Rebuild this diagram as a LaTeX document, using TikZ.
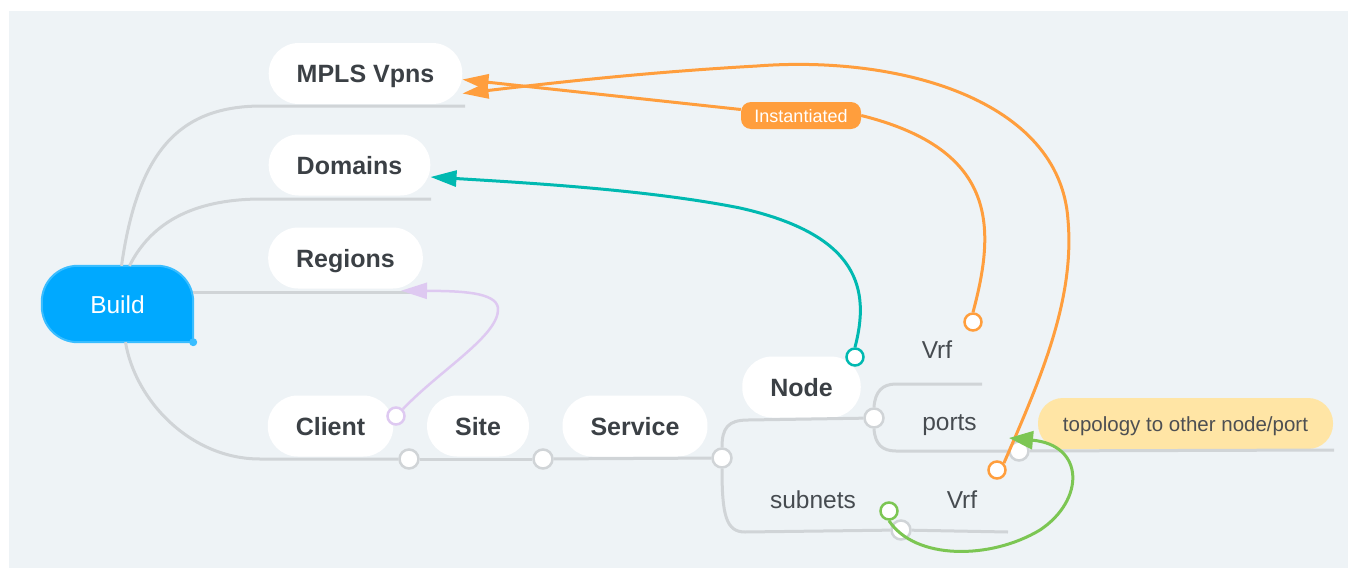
\documentclass[tikz,border=0pt]{standalone}
\usepackage{fontspec}
\setmainfont{Liberation Sans}
\usepackage{xcolor}
\usetikzlibrary{positioning,arrows.meta,backgrounds,calc}
\definecolor{panelbg}{HTML}{EEF3F6}
\definecolor{linegray}{HTML}{D0D4D7}
\definecolor{boxtext}{HTML}{3B4045}
\definecolor{leaftext}{HTML}{464B50}
\definecolor{topotext}{HTML}{4D4F52}
\definecolor{buildblue}{HTML}{00A9FF}
\definecolor{buildedge}{HTML}{3ABDFF}
\definecolor{relorange}{HTML}{FF9E3D}
\definecolor{relteal}{HTML}{00B9B1}
\definecolor{relgreen}{HTML}{7CC653}
\definecolor{rellilac}{HTML}{DEC9F1}
\definecolor{topoyellow}{HTML}{FFE5A5}

\begin{document}
\begin{tikzpicture}[x=1pt,y=-1pt,
    topic/.style={fill=white,rounded corners=30pt,inner xsep=28pt,minimum height=61pt,
                  text height=18pt,text depth=0pt,text=boxtext,
                  font=\fontsize{25}{30}\selectfont\bfseries},
    leaf/.style={inner sep=0pt,text height=18pt,text depth=0pt,text=leaftext,
                 font=\fontsize{24.5}{29}\selectfont},
    knob/.style={circle,draw=linegray,fill=white,line width=2.5pt,minimum size=19pt,inner sep=0pt},
    rdot/.style={circle,fill=white,line width=2.5pt,minimum size=17pt,inner sep=0pt},
    branch/.style={draw=linegray,line width=3pt},
    rel/.style={line width=3pt},
    >={Triangle[length=26pt,width=16pt]}]
    \useasboundingbox (0,0) rectangle (1358,570);
    \begin{scope}[on background layer]
        \fill[white] (0,0) rectangle (1358,570);
        \fill[panelbg] (9,11) rectangle (1348,568);
    \end{scope}

    \node[minimum width=151pt,minimum height=76pt,inner sep=0pt,text height=18pt,text depth=0pt,
          text=white,font=\fontsize{24.5}{29}\selectfont] (build) at (117.5,304) {Build};
    \begin{scope}[on background layer]
        \draw[buildedge,fill=buildblue,line width=2pt,rounded corners=36pt]
            (build.east) -- (build.north east) -- (build.north west) -- (build.south west)
            -- (build.south) [sharp corners] -- (build.south east) -- cycle;
    \end{scope}
    \fill[buildedge] (build.south east) circle (4pt);

    \node[topic] (mpls) at (365.5,73.5) {MPLS Vpns};
    \node[topic] (domains) at (349.5,165) {Domains};
    \node[topic] (regions) at (345.5,258) {Regions};
    \node[topic] (client) at (330.5,426) {Client};
    \node[topic] (site) at (478,426) {Site};
    \node[topic] (service) at (635,426) {Service};
    \node[topic] (nd) at (801.5,387) {Node};

    \node[leaf] (vrfa) at (937,349) {Vrf};
    \node[leaf] (ports) at (949.5,421) {ports};
    \node[leaf] (subnets) at (813,499) {subnets};
    \node[leaf] (vrfb) at (962,499) {Vrf};

    \node[fill=topoyellow,rounded corners=25pt,minimum width=295pt,minimum height=51pt,inner sep=0pt,
          text height=15pt,text depth=0pt,text=topotext,font=\fontsize{20.5}{24}\selectfont]
          (topology) at (1185.5,423.5) {topology to other node/port};
    \node[fill=relorange,rounded corners=10pt,minimum width=120pt,minimum height=27pt,inner sep=0pt,
          text height=13pt,text depth=0pt,text=white,font=\fontsize{18}{21}\selectfont]
          (inst) at (801,115.5) {Instantiated};

    \node[rdot,draw=relteal] (tealdot) at (855,357) {};
    \node[rdot,draw=relorange] (vrfadot) at (973,322) {};
    \node[rdot,draw=relorange] (vrfbdot) at (997,470) {};
    \node[rdot,draw=relgreen] (subdot) at (889,511) {};
    \node[rdot,draw=rellilac] (clientdot) at (396,416) {};

    \node[knob] (clientknob) at (409,459) {};
    \node[knob] (siteknob) at (543,459) {};
    \node[knob] (serviceknob) at (722,458) {};
    \node[knob] (nodeknob) at (874,418) {};
    \node[knob] (portsknob) at (1019,451) {};
    \node[knob] (subnetsknob) at (901,530) {};

    \coordinate (mplsline) at (465,106);
    \coordinate (domainsline) at (431,199);
    \coordinate (regionsline) at (423,292);
    \coordinate (vrfaline) at (982,384);
    \coordinate (vrfbline) at (1008,532);
    \coordinate (topoline) at (1334,450);

    \draw[branch] ([xshift=4pt]build.north) .. controls (138,150) and (180,106) .. (262,106) -- (mplsline);
    \draw[branch] ([xshift=12pt]build.north) .. controls (150,225) and (190,199) .. (262,199) -- (domainsline);
    \draw[branch] ([yshift=12pt]build.east) -- (regionsline);
    \draw[branch] ([xshift=8pt]build.south) .. controls (135,400) and (190,459) .. (260,459) -- (clientknob);
    \draw[branch] (clientknob) -- (siteknob);
    \draw[branch] (siteknob) -- (serviceknob);
    \draw[branch] (serviceknob.north) .. controls (722,428) and (728,420) .. (748,420) -- (nodeknob);
    \draw[branch] (serviceknob.south) .. controls (722,515) and (726,532) .. (745,532) -- (subnetsknob);
    \draw[branch] (subnetsknob) -- (vrfbline);
    \draw[branch] (nodeknob.north) .. controls (875,392) and (882,384) .. (896,384) -- (vrfaline);
    \draw[branch] (nodeknob.south) .. controls (875,444) and (882,451) .. (896,451) -- (portsknob);
    \draw[branch] (portsknob) -- (topoline);

    \draw[rel,relteal,->] (tealdot.north) .. controls (870,290) and (860,235) .. (740,208)
        .. controls (650,190) and (530,183) .. ([yshift=-12pt]domains.east);
    \draw[rel,rellilac,line width=2.5pt,->] (clientdot.north east) .. controls (440,370) and (500,335) .. (498,308)
        .. controls (496,292) and (460,291) .. ([xshift=-22pt,yshift=-2pt]regions.south east);
    \draw[rel,relorange] (vrfadot.north) .. controls (995,230) and (1000,150) .. (inst.east);
    \draw[rel,relorange,->] ([yshift=6pt]inst.west) -- ([yshift=-6pt]mpls.east);
    \draw[rel,relorange,->] (vrfbdot.north east) .. controls (1040,380) and (1075,300) .. (1068,220)
        .. controls (1060,100) and (900,55) .. (757,66)
        .. controls (650,72) and (560,82) .. ([yshift=-20pt]mpls.east);
    \draw[rel,relgreen,-{Triangle[length=24pt,width=18pt]}] (subdot.south) .. controls (915,560) and (990,560) .. (1040,530)
        .. controls (1085,500) and (1085,445) .. ([shift={(-10,-13)}]portsknob.center);
\end{tikzpicture}
\end{document}
